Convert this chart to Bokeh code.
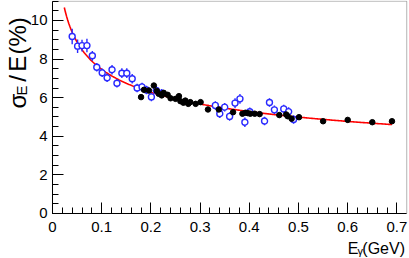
import math
import numpy as np
from bokeh.plotting import figure
from bokeh.models import (ColumnDataSource, SingleIntervalTicker, CustomJSTickFormatter,
                          Label, Range1d, BoxAnnotation)
from bokeh.embed import file_html
from bokeh.resources import INLINE

# ---- data ----
blue_x = [0.040, 0.051, 0.060, 0.070, 0.081, 0.090, 0.101, 0.111, 0.121, 0.131,
          0.141, 0.151, 0.162, 0.172, 0.182, 0.191, 0.201, 0.211, 0.222, 0.331,
          0.340, 0.350, 0.360, 0.371, 0.381, 0.391, 0.401, 0.431, 0.441, 0.451,
          0.470, 0.480, 0.490]
blue_y = [9.17, 8.67, 8.70, 8.70, 8.17, 7.58, 7.29, 7.03, 7.45, 6.75,
          7.27, 7.27, 6.98, 6.50, 6.56, 6.40, 6.04, 6.37, 6.23, 5.60,
          5.17, 5.51, 5.03, 5.72, 5.94, 4.73, 5.27, 4.79, 5.75, 5.37,
          5.42, 5.28, 4.87]
blue_err = [0.40, 0.35, 0.30, 0.35, 0.25, 0.22, 0.22, 0.22, 0.25, 0.22,
            0.25, 0.25, 0.25, 0.22, 0.22, 0.22, 0.22, 0.22, 0.22, 0.22,
            0.22, 0.22, 0.22, 0.25, 0.25, 0.25, 0.22, 0.22, 0.22, 0.22,
            0.22, 0.22, 0.22]

black_x = [0.180, 0.186, 0.196, 0.206, 0.212, 0.216, 0.222, 0.226, 0.234, 0.240,
           0.250, 0.257, 0.260, 0.266, 0.270, 0.276, 0.280, 0.291, 0.301, 0.316,
           0.338, 0.367, 0.386, 0.392, 0.397, 0.402, 0.411, 0.421, 0.461, 0.475,
           0.478, 0.486, 0.501, 0.550, 0.600, 0.650, 0.690]
black_y = [6.03, 6.41, 6.37, 6.63, 6.35, 6.20, 6.12, 6.25, 6.15, 5.97,
           5.94, 6.08, 5.82, 5.74, 5.85, 5.68, 5.77, 5.68, 5.77, 5.39,
           5.39, 5.25, 5.17, 5.22, 5.20, 5.17, 5.17, 5.15, 5.10, 5.13,
           5.04, 4.91, 4.99, 4.78, 4.85, 4.73, 4.78]
black_err = [0.12] * len(black_x)

# fitted curve: sigma/E = fit_a / E^fit_p
fit_a = 4.2
fit_p = 0.25
fit_x_min = 0.024
fit_x_max = 0.69

# axis extents
X_MIN, X_MAX = 0.0, 0.72
Y_MIN, Y_MAX = 0.0, 11.0

FONT = "Liberation Sans"

# the frame covers the whole figure; axes are pinned at x=0 / y=0
p = figure(width=409, height=258, output_backend="svg", toolbar_location=None,
           x_range=Range1d(-0.10569, 0.72561), y_range=Range1d(-2.3316, 11.036),
           min_border=0)
p.background_fill_color = "white"
p.border_fill_color = "white"
p.outline_line_color = None
p.xgrid.visible = False
p.ygrid.visible = False

p.xaxis.ticker = SingleIntervalTicker(interval=0.1, num_minor_ticks=5)
p.xaxis.formatter = CustomJSTickFormatter(code="return String(Number(tick.toFixed(2)));")
p.yaxis.ticker = SingleIntervalTicker(interval=2, num_minor_ticks=4)
p.xaxis.fixed_location = Y_MIN
p.yaxis.fixed_location = X_MIN
p.xaxis.bounds = (X_MIN, X_MAX)
p.yaxis.bounds = (Y_MIN, Y_MAX)
for ax in (p.xaxis, p.yaxis):
    ax.axis_line_color = "black"
    ax.major_tick_line_color = "black"
    ax.minor_tick_line_color = "black"
    ax.major_tick_in = 11
    ax.major_tick_out = 0
    ax.minor_tick_in = 6
    ax.minor_tick_out = 0
    ax.major_label_text_font = FONT
    ax.major_label_text_font_size = "15px"
    ax.major_label_text_color = "black"
p.xaxis.major_label_standoff = 9
p.yaxis.major_label_standoff = 5

# frame box (top / right edges)
p.add_layout(BoxAnnotation(left=X_MIN, right=X_MAX, bottom=Y_MIN, top=Y_MAX,
                           fill_alpha=0, line_color="black", line_width=1))

# fit curve
fx = np.linspace(fit_x_min, fit_x_max, 300)
fy = fit_a * fx ** (-fit_p)
p.line(fx, fy, line_color="#ff0000", line_width=1.6)

# blue points with error bars
bsrc = ColumnDataSource(dict(x=blue_x, y=blue_y,
                             lo=[y - e for y, e in zip(blue_y, blue_err)],
                             hi=[y + e for y, e in zip(blue_y, blue_err)]))
p.segment(x0="x", y0="lo", x1="x", y1="hi", source=bsrc, line_color="#2a2aff", line_width=1.4)
p.scatter(x="x", y="y", source=bsrc, marker="circle", size=6, fill_color="white",
          line_color="#2a2aff", line_width=1.4)

# black points with error bars
ksrc = ColumnDataSource(dict(x=black_x, y=black_y,
                             lo=[y - e for y, e in zip(black_y, black_err)],
                             hi=[y + e for y, e in zip(black_y, black_err)]))
p.segment(x0="x", y0="lo", x1="x", y1="hi", source=ksrc, line_color="black", line_width=1.2)
p.scatter(x="x", y="y", source=ksrc, marker="circle", size=5.5, fill_color="black",
          line_color="black")

# y-axis title: sigma_E/E(%)  (vertical, reading upward)
ang = math.pi / 2
ytitle = [("σ", -0.0711, 5.44, "24px"),
          ("E", -0.0620, 6.11, "15px"),
          ("/", -0.0711, 6.83, "24px"),
          ("E", -0.0711, 7.35, "24px"),
          ("(%)", -0.0711, 8.24, "24px")]
for t, xx, yy, fs in ytitle:
    p.add_layout(Label(x=xx, y=yy, text=t, angle=ang, text_align="left",
                       text_baseline="middle", text_font=FONT, text_font_size=fs,
                       text_color="black"))

# x-axis title: E_gamma(GeV)
p.add_layout(Label(x=0.7165, y=-1.834, text="(GeV)", text_align="right",
                   text_baseline="middle", text_font=FONT, text_font_size="16px",
                   text_color="black"))
p.add_layout(Label(x=0.6311, y=-1.943, text="γ", text_align="right",
                   text_baseline="middle", text_font=FONT, text_font_size="11px",
                   text_color="black"))
p.add_layout(Label(x=0.6220, y=-1.834, text="E", text_align="right",
                   text_baseline="middle", text_font=FONT, text_font_size="16px",
                   text_color="black"))

open("out.html", "w").write(file_html(p, INLINE))
